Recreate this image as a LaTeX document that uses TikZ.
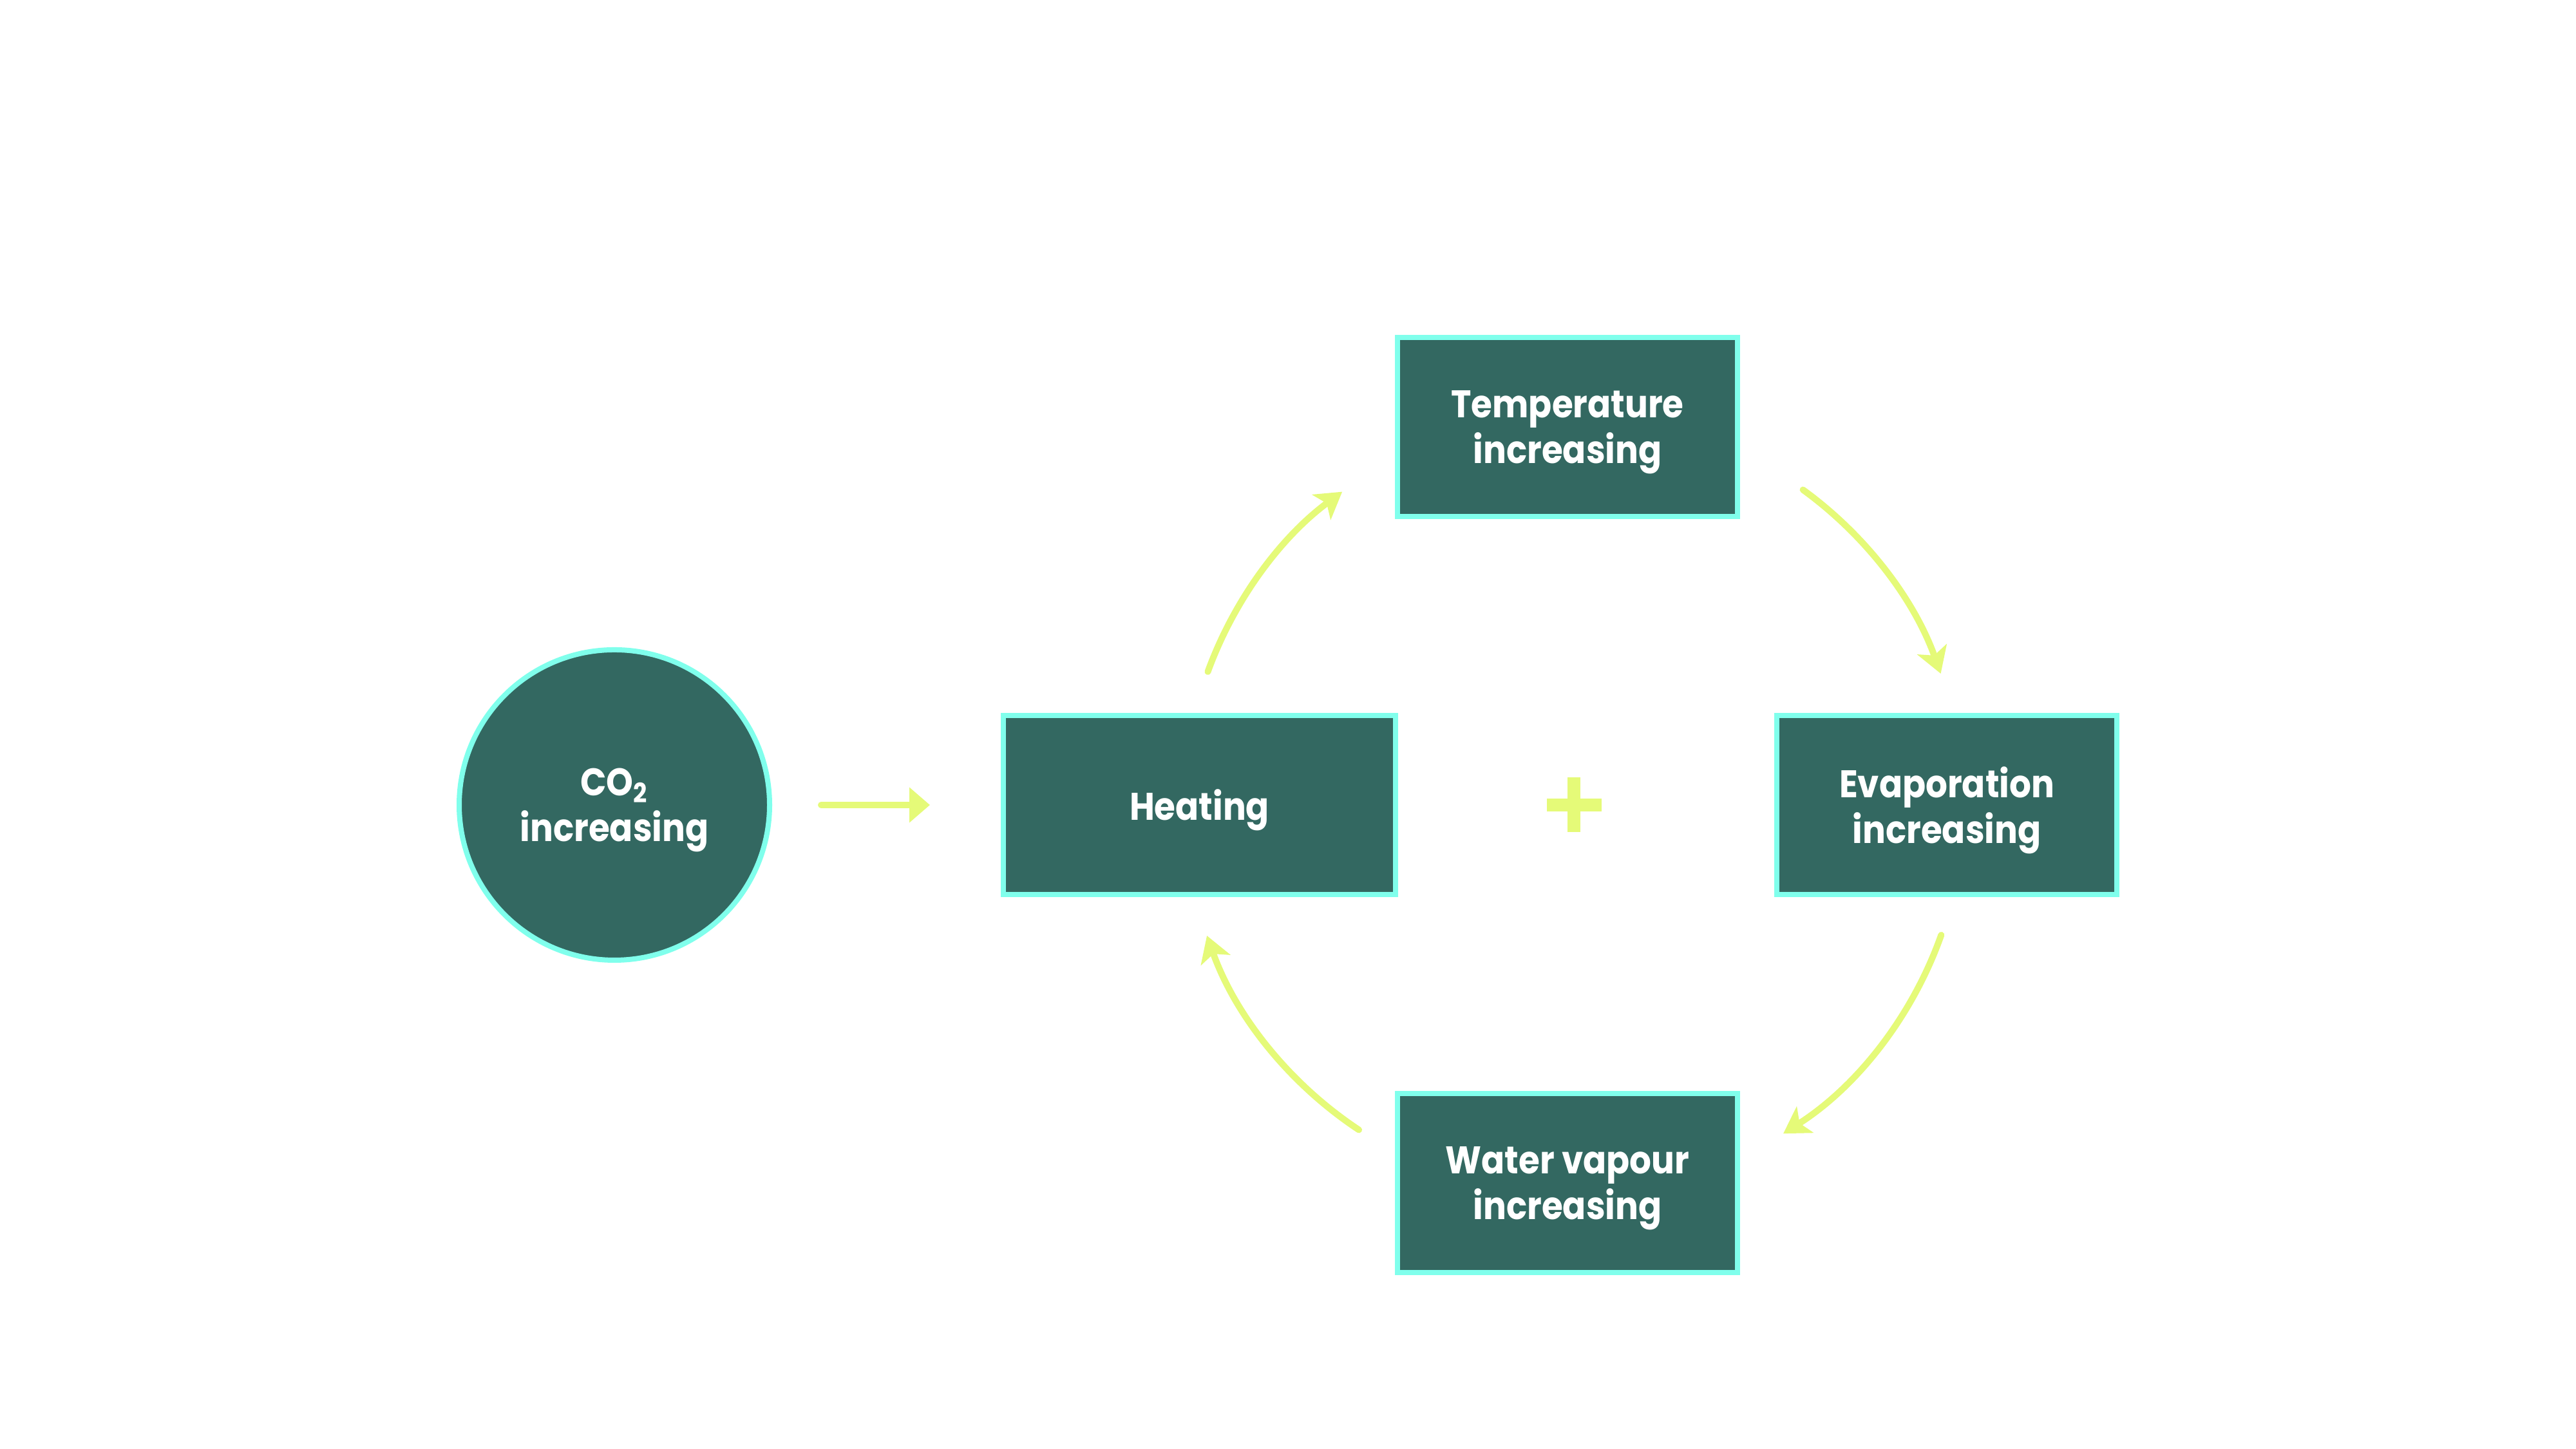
\documentclass[tikz,border=0pt]{standalone}
\usepackage{fontspec}
\setmainfont{Poppins}[FakeStretch=0.89]
\usetikzlibrary{arrows.meta, positioning, calc}
\definecolor{boxfill}{RGB}{51,104,97}
\definecolor{boxline}{RGB}{128,255,236}
\definecolor{arrowlime}{RGB}{229,250,120}

\begin{document}
\begin{tikzpicture}[
		every node/.style={font=\bfseries\fontsize{17}{20.2}\selectfont, text=white, align=center},
		stage/.style={draw=boxline, fill=boxfill, line width=0.08cm, rectangle, minimum width=5.28cm, minimum height=2.78cm, inner sep=0pt, text depth=0pt},
		source/.style={draw=boxline, fill=boxfill, line width=0.08cm, circle, minimum size=4.82cm, inner sep=0pt, text depth=0pt},
		feed/.style={draw=arrowlime, line width=0.1cm, line cap=round, -{Stealth[length=0.4cm, width=0.48cm, inset=0.1cm]}},
		push/.style={draw=arrowlime, line width=0.1cm, line cap=round, -{Triangle[length=0.32cm, width=0.53cm]}}
		]
		\useasboundingbox (0,0) rectangle (40,22.5);
		
		% Source and the loop nodes
		\node[source] at (9.54,10) (co2) {CO\textsubscript{2}\\increasing};
		\node[stage, right=3.55cm of co2, minimum width=6.09cm] (heat) {Heating};
		\node[stage, right=5.84cm of heat] (evap) {Evaporation\\increasing};
		\node[stage] at (24.34,15.87) (temp) {Temperature\\increasing};
		\node[stage] at (24.34,4.13) (vap) {Water vapour\\increasing};
		
		% Plus in the middle of the loop
		\node[inner sep=0pt, minimum size=0.85cm] at (24.44,10) (plus) {};
		\fill[arrowlime] ($(plus)+(-0.425,-0.1)$) rectangle ($(plus)+(0.425,0.1)$);
		\fill[arrowlime] ($(plus)+(-0.1,-0.425)$) rectangle ($(plus)+(0.1,0.425)$);
		
		% Arrows
		\draw[push, shorten <=0.76cm, shorten >=1.1cm] (co2) -- (heat);
		\draw[feed] ($(plus)+(160:6.05)$) arc[start angle=160, end angle=126.5, radius=6.05];
		\draw[feed] ($(plus)+(54:6.05)$) arc[start angle=54, end angle=19.7, radius=6.05];
		\draw[feed] ($(plus)+(-19.5:6.05)$) arc[start angle=-19.5, end angle=-57.5, radius=6.05];
		\draw[feed] ($(plus)+(236.5:6.05)$) arc[start angle=236.5, end angle=199.6, radius=6.05];
	\end{tikzpicture}
\end{document}
